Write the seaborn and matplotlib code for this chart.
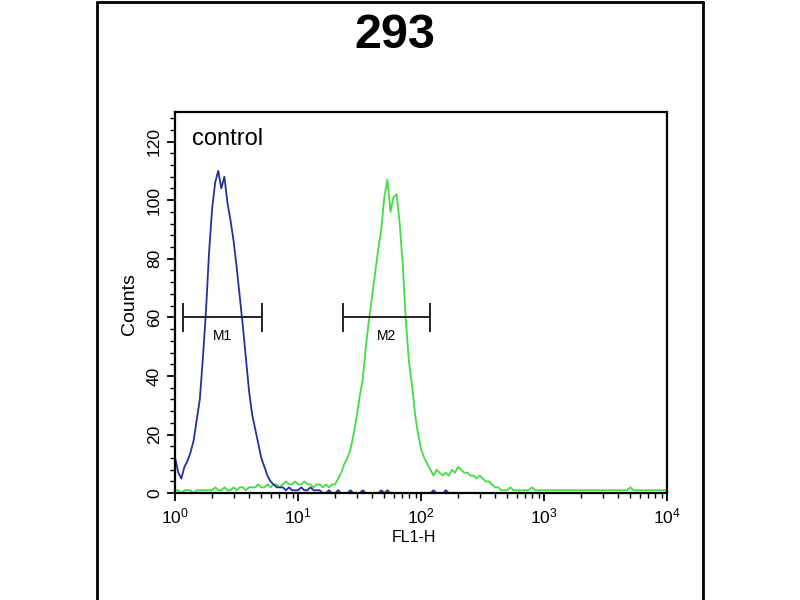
import numpy as np
import pandas as pd
import seaborn as sns
import matplotlib.pyplot as plt
from matplotlib.lines import Line2D
from matplotlib.ticker import MultipleLocator, LogLocator

# histogram channel width (decades of FL1-H per channel)
channel_step = 0.025

# control (blue) counts per channel, starting at 10^0
control_counts = [
    12, 7, 5, 9, 11, 14, 18, 25, 32, 46,
    62, 82, 97, 106, 110, 104, 108, 99, 93, 86,
    77, 67, 57, 46, 35, 27, 22, 17, 12, 9,
    6, 4, 3, 2, 2, 2, 1, 2, 1, 1,
    1, 2, 1, 1, 2, 1, 1, 1, 0, 0,
    1, 0, 0, 1, 0, 0, 0, 1, 0, 0,
    0, 1, 0, 0, 0, 0, 0, 1, 0, 1,
    0, 0, 0, 0, 0, 0, 0, 0, 0, 0,
    0, 0, 0, 0, 1, 0, 0, 0, 1, 0,
    0, 0, 0, 0, 0, 0, 0, 0, 0, 0,
    0, 0, 0, 0, 0, 0, 0, 0, 0, 0,
    0, 0, 0, 0, 0, 0, 0, 0, 0, 0,
    0, 0, 0, 0, 0, 0, 0, 0, 0, 0,
    0, 0, 0, 0, 0, 0, 0, 0, 0, 0,
    0, 0, 0, 0, 0, 0, 0, 0, 0, 0,
    0, 0, 0, 0, 0, 0, 0, 0, 0, 0,
    0,
]

# stained sample (green) counts per channel
sample_counts = [
    1, 1, 0, 1, 1, 1, 0, 1, 1, 1,
    1, 1, 1, 2, 1, 1, 2, 1, 1, 2,
    1, 2, 2, 1, 2, 2, 2, 3, 2, 2,
    3, 2, 3, 3, 2, 3, 4, 3, 3, 4,
    3, 3, 4, 3, 3, 2, 3, 3, 2, 3,
    2, 3, 3, 5, 7, 10, 12, 15, 20, 26,
    33, 39, 50, 59, 67, 75, 83, 90, 101, 107,
    96, 101, 102, 92, 78, 59, 45, 37, 27, 20,
    15, 12, 10, 8, 6, 8, 7, 6, 7, 6,
    8, 7, 9, 8, 7, 7, 6, 6, 5, 6,
    5, 4, 4, 3, 2, 2, 1, 1, 1, 2,
    1, 1, 1, 1, 1, 1, 2, 1, 1, 1,
    1, 1, 1, 1, 1, 1, 1, 1, 1, 1,
    1, 1, 1, 1, 1, 1, 1, 1, 1, 1,
    1, 1, 1, 1, 1, 1, 1, 1, 2, 1,
    1, 1, 1, 1, 1, 1, 1, 1, 1, 1,
    1,
]

# marker gates
marker_names = ["M1", "M2"]
marker_left = [1.16, 23.0]
marker_right = [5.1, 118.0]
marker_level = [60, 60]

title = "293"

frames = []
for name, counts in [("sample", sample_counts), ("control", control_counts)]:
    decade = np.arange(len(counts)) * channel_step
    frames.append(pd.DataFrame({"FL1-H": 10 ** decade, "Counts": counts, "tube": name}))
df = pd.concat(frames, ignore_index=True)

sns.set_style("ticks")
plt.rcParams["font.family"] = ["Liberation Sans", "DejaVu Sans"]
plt.rcParams["text.color"] = "black"
plt.rcParams["axes.labelcolor"] = "black"
plt.rcParams["xtick.color"] = "black"
plt.rcParams["ytick.color"] = "black"

fig = plt.figure(figsize=(8, 6), dpi=100)
ax = fig.add_axes([0.219, 0.178, 0.615, 0.635])

sns.lineplot(data=df, x="FL1-H", y="Counts", hue="tube",
             hue_order=["sample", "control"],
             palette={"sample": "#44dc44", "control": "#26309a"},
             estimator=None, linewidth=1.3, legend=False, ax=ax)

ax.set_xscale("log")
ax.set_xlim(1, 10000)
ax.set_ylim(0, 130)

ax.yaxis.set_major_locator(MultipleLocator(20))
ax.yaxis.set_minor_locator(MultipleLocator(4))
ax.xaxis.set_major_locator(LogLocator(base=10))
ax.xaxis.set_minor_locator(LogLocator(base=10, subs=np.arange(2, 10)))

ax.tick_params(axis="both", which="major", direction="out", length=6, width=1.3,
               labelsize=12.5, color="black", labelcolor="black")
ax.tick_params(axis="both", which="minor", direction="out", length=3.5, width=1.0,
               color="black")
for lab in ax.get_yticklabels():
    lab.set_rotation(90)
    lab.set_va("center")

for s in ax.spines.values():
    s.set_visible(True)
    s.set_linewidth(1.6)
    s.set_color("black")

ax.set_xlabel("FL1-H", fontsize=11.5)
ax.set_ylabel("Counts", fontsize=14)
ax.xaxis.set_label_coords(0.486, -0.097)
ax.yaxis.set_label_coords(-0.075, 0.496)

for name, lo, hi, lv in zip(marker_names, marker_left, marker_right, marker_level):
    ax.hlines(lv, lo, hi, color="#222222", linewidth=1.4)
    ax.vlines([lo, hi], lv - 5, lv + 5, color="#222222", linewidth=1.4)
    ax.text(np.sqrt(lo * hi), lv - 4, name, ha="center", va="top", fontsize=10)

ax.text(0.035, 0.93, "control", transform=ax.transAxes, fontsize=17,
        ha="left", va="center")

fig.text(0.494, 0.92, title, fontsize=35, fontweight="bold",
         ha="center", va="baseline")

# outer frame (open at the bottom)
for xs, ys in [([0.121, 0.121], [0.0, 0.997]),
               ([0.879, 0.879], [0.0, 0.997]),
               ([0.121, 0.879], [0.997, 0.997])]:
    fig.add_artist(Line2D(xs, ys, color="black", linewidth=2, transform=fig.transFigure))

fig.savefig("out.png", dpi=100)
